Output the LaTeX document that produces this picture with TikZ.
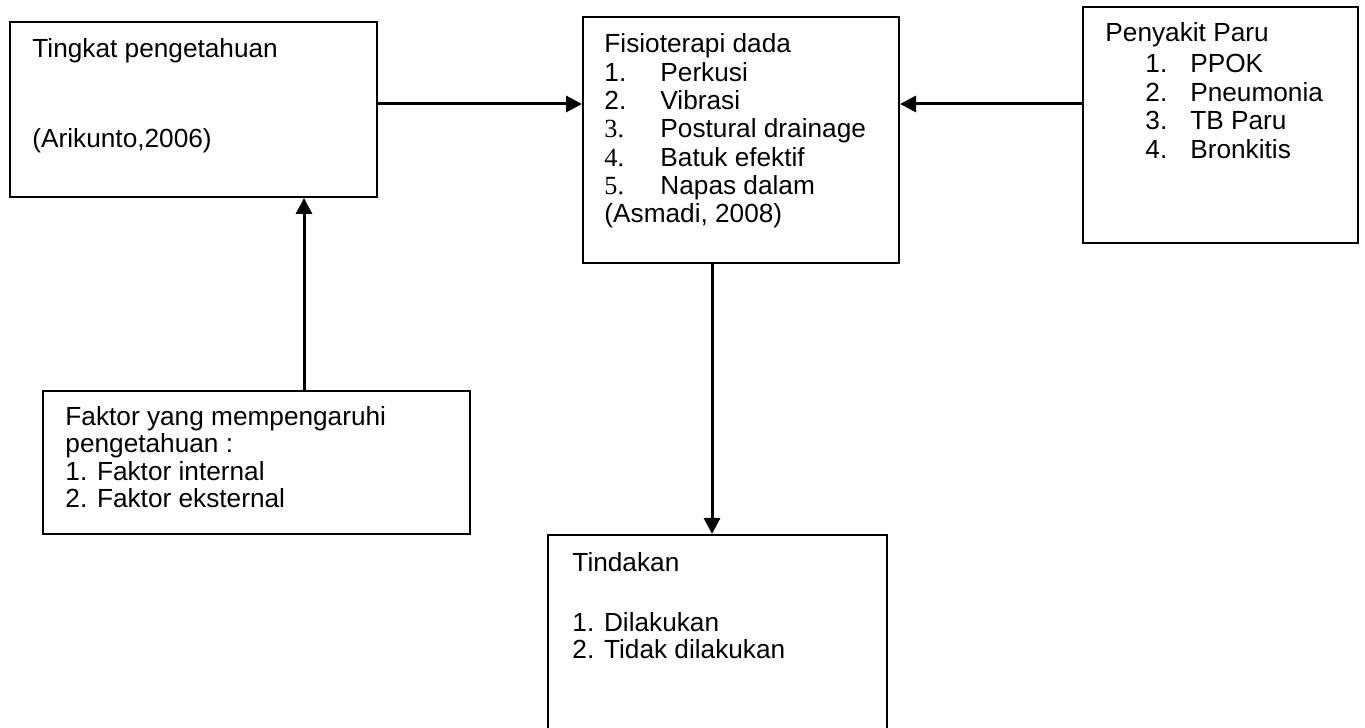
\documentclass[tikz,border=0pt]{standalone}
\usepackage{fontspec}
\setmainfont{Liberation Sans}
\newfontfamily\serifnum{Liberation Serif}
\usetikzlibrary{arrows.meta,fit}
\tikzset{
  box/.style={draw=black, line width=0.9pt, inner sep=0pt, rectangle},
  txt/.style={anchor=base west, inner sep=0pt, font=\fontsize{11.8}{14}\selectfont},
  arr/.style={line width=1.35pt, -{Triangle[length=7.2pt,width=7.2pt]}},
}
\newcommand{\numB}[1]{\makebox[25.2pt][l]{#1}}
\newcommand{\numC}[1]{\makebox[20.2pt][l]{#1}}
\begin{document}
\begin{tikzpicture}[x=0.45pt,y=-0.45pt]
\useasboundingbox (0,0) rectangle (1365,728);
% boxes
\node[box, fit={(10,22) (377,197)}] (A) {};
\node[box, fit={(583,17) (899,263)}] (B) {};
\node[box, fit={(1083,7) (1358,243)}] (C) {};
\node[box, fit={(43,391) (470,534)}] (D) {};
\node[box, fit={(548,535) (887,740)}] (E) {};
% box A text
\node[txt] (a1) at (32,58) {Tingkat pengetahuan};
\node[txt] (a2) at (32,148) {(Arikunto,2006)};
% box B text
\node[txt] (b0) at (604,53) {Fisioterapi dada};
\node[txt] (b1) at (604,81.3) {\numB{1.}Perkusi};
\node[txt] (b2) at (604,109.6) {\numB{2.}Vibrasi};
\node[txt] (b3) at (604,137.9) {\numB{\serifnum 3.}Postural drainage};
\node[txt] (b4) at (604,166.2) {\numB{\serifnum 4.}Batuk efektif};
\node[txt] (b5) at (604,194.5) {\numB{\serifnum 5.}Napas dalam};
\node[txt] (b6) at (604,222.8) {(Asmadi, 2008)};
% box C text
\node[txt] (c0) at (1105,42) {Penyakit Paru};
\node[txt] (c1) at (1145,73) {\numC{1.}PPOK};
\node[txt] (c2) at (1145,101.5) {\numC{2.}Pneumonia};
\node[txt] (c3) at (1145,130) {\numC{3.}TB Paru};
\node[txt] (c4) at (1145,158.5) {\numC{4.}Bronkitis};
% box D text
\node[txt] (d1) at (65,426) {Faktor yang mempengaruhi};
\node[txt] (d2) at (65,453) {pengetahuan :};
\node[txt] (d3) at (65,480.5) {1. Faktor internal};
\node[txt] (d4) at (65,508) {2. Faktor eksternal};
% box E text
\node[txt] (e1) at (572,572) {Tindakan};
\node[txt] (e2) at (572,632) {1. Dilakukan};
\node[txt] (e3) at (572,658) {2. Tidak dilakukan};
% connectors
\draw[arr] (A.east |- 0,104) -- (B.west |- 0,104);
\draw[arr] (C.west |- 0,104) -- (B.east |- 0,104);
\draw[arr] (D.north -| 304,0) -- (A.south -| 304,0);
\draw[arr] (B.south -| 712,0) -- (E.north -| 712,0);
\end{tikzpicture}
\end{document}
